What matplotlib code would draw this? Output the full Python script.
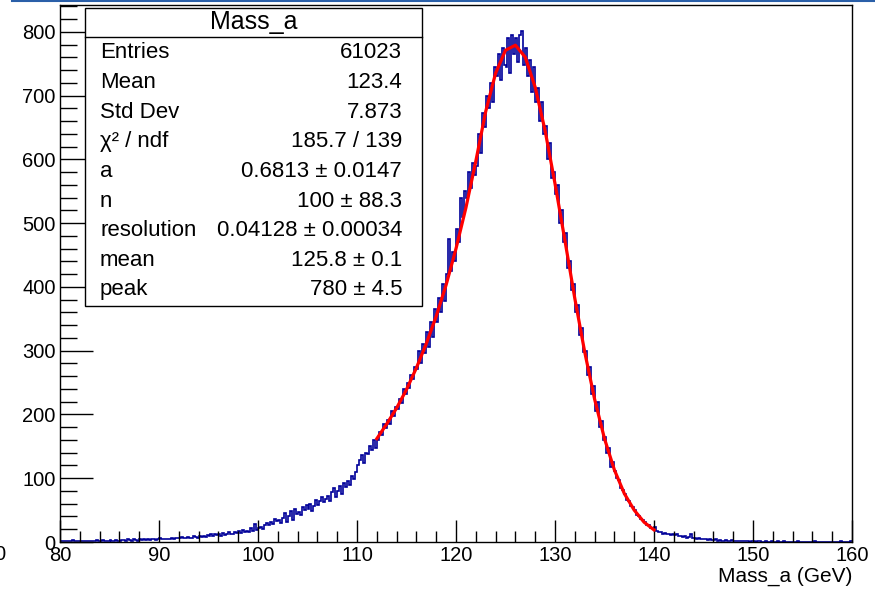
import numpy as np
import matplotlib
matplotlib.use("Agg")
import matplotlib.pyplot as plt
from matplotlib.lines import Line2D
from matplotlib.patches import Rectangle
from matplotlib.ticker import MultipleLocator

plt.rcParams['font.family'] = ['Liberation Sans', 'DejaVu Sans']

# histogram Mass_a: 400 bins from 80 to 160 GeV
x_min, x_max, n_bins = 80, 160, 400
counts = [
    1, 2, 1, 1, 2, 1, 3, 2, 1, 1,
    2, 1, 2, 1, 2, 1, 2, 2, 3, 1,
    2, 3, 2, 2, 2, 3, 2, 2, 3, 2,
    2, 3, 3, 2, 4, 3, 2, 4, 3, 2,
    4, 3, 5, 3, 4, 3, 5, 4, 3, 4,
    6, 4, 5, 4, 5, 5, 6, 5, 7, 6,
    6, 8, 7, 6, 8, 7, 6, 9, 8, 7,
    9, 8, 10, 8, 11, 10, 12, 9, 13, 11,
    12, 10, 14, 11, 13, 15, 13, 12, 16, 14,
    17, 14, 19, 15, 18, 16, 22, 18, 28, 19,
    22, 24, 20, 26, 30, 27, 31, 29, 36, 33,
    34, 30, 38, 45, 32, 40, 48, 35, 52, 44,
    47, 42, 55, 50, 58, 52, 60, 48, 56, 66,
    58, 64, 70, 62, 68, 72, 65, 78, 84, 70,
    80, 88, 76, 92, 86, 96, 90, 104, 98, 110,
    120, 128, 136, 124, 140, 138, 150, 145, 160, 148,
    160, 172, 168, 185, 178, 192, 185, 205, 198, 212,
    208, 225, 218, 240, 232, 250, 242, 262, 255, 275,
    272, 300, 280, 310, 296, 330, 305, 345, 322, 365,
    345, 382, 360, 405, 378, 420, 475, 425, 455, 440,
    490, 470, 540, 510, 550, 540, 580, 555, 595, 575,
    590, 640, 610, 672, 650, 700, 680, 720, 690, 745,
    730, 765, 725, 775, 748, 745, 790, 735, 795, 765,
    790, 752, 795, 802, 748, 775, 730, 755, 705, 745,
    690, 712, 660, 690, 640, 652, 600, 625, 570, 580,
    545, 560, 500, 520, 470, 485, 430, 440, 395, 405,
    360, 372, 325, 335, 298, 300, 262, 275, 232, 245,
    205, 220, 180, 190, 160, 165, 140, 148, 118, 125,
    112, 100, 97, 85, 82, 75, 66, 64, 56, 55,
    50, 43, 41, 36, 34, 31, 27, 27, 22, 22,
    24, 17, 15, 16, 13, 14, 12, 13, 11, 12,
    11, 12, 9, 10, 8, 9, 7, 8, 12, 6,
    6, 5, 7, 4, 5, 4, 5, 3, 4, 3,
    3, 4, 2, 3, 2, 2, 3, 2, 1, 3,
    2, 1, 2, 1, 2, 1, 2, 1, 0, 1,
    1, 0, 1, 1, 0, 0, 1, 0, 0, 1,
    0, 0, 1, 0, 0, 1, 0, 0, 0, 0,
    0, 0, 1, 0, 0, 0, 0, 0, 0, 0,
    0, 1, 0, 0, 0, 0, 0, 0, 0, 0,
    0, 0, 0, 0, 1, 0, 0, 0, 0, 1,
]

# fit curve (red), read at 1 GeV steps
fit_x = [112, 113, 114, 115, 116, 117, 118, 119, 120, 121, 122, 123, 124, 125, 126,
         127, 128, 129, 130, 131, 132, 133, 134, 135, 136, 137, 138, 139, 140]
fit_y = [162, 185, 210, 239, 273, 311, 354, 403, 460, 524, 597, 675, 735, 771, 779,
         760, 713, 645, 562, 473, 382, 298, 224, 162, 113, 76, 50, 31, 19]

stat_labels = ["Entries", "Mean", "Std Dev", "\u03c7\u00b2 / ndf", "a", "n",
               "resolution", "mean", "peak"]
stat_values = ["61023", "123.4", "7.873", "185.7 / 139", "0.6813 \u00b1 0.0147",
               "100 \u00b1 88.3", "0.04128 \u00b1 0.00034", "125.8 \u00b1 0.1",
               "780 \u00b1 4.5"]

W, H = 875, 593
fig = plt.figure(figsize=(W / 100, H / 100), dpi=100)
ax = fig.add_axes([60 / W, 1 - 542 / H, 792 / W, 537 / H])

edges = np.linspace(x_min, x_max, n_bins + 1)
ax.stairs(counts, edges, color='#000099', lw=1.2, baseline=None)
ax.plot(fit_x, fit_y, color='#ff0000', lw=2.3)

ax.set_xlim(x_min, x_max)
ax.set_ylim(0, 842)
ax.xaxis.set_major_locator(MultipleLocator(10))
ax.xaxis.set_minor_locator(MultipleLocator(2))
ax.yaxis.set_major_locator(MultipleLocator(100))
ax.yaxis.set_minor_locator(MultipleLocator(20))
ax.tick_params(axis='both', which='both', direction='in', top=False, right=False,
               labelsize=14.5, width=1, color='black')
ax.tick_params(axis='x', which='major', length=16, pad=3)
ax.tick_params(axis='x', which='minor', length=8)
ax.tick_params(axis='y', which='major', length=24, pad=3)
ax.tick_params(axis='y', which='minor', length=12)
for s in ax.spines.values():
    s.set_linewidth(1)
ax.set_xlabel("Mass_a (GeV)", fontsize=15, loc='right', labelpad=1)

# stats box
bx0, bx1, by0, by1 = 85 / W, 422 / W, 1 - 306 / H, 1 - 8 / H
fig.add_artist(Rectangle((bx0, by0), bx1 - bx0, by1 - by0, transform=fig.transFigure,
                         facecolor='white', edgecolor='black', lw=1, zorder=5))
fig.add_artist(Line2D([bx0, bx1], [1 - 37 / H, 1 - 37 / H], transform=fig.transFigure,
                      color='black', lw=1, zorder=6))
fig.text((bx0 + bx1) / 2, 1 - 22 / H, "Mass_a", ha='center', va='center',
         fontsize=18, zorder=7)
for i, (lab, val) in enumerate(zip(stat_labels, stat_values)):
    yy = 1 - (53 + i * 29.6) / H
    fig.text(100 / W, yy, lab, ha='left', va='center', fontsize=16, zorder=7)
    fig.text(402 / W, yy, val, ha='right', va='center', fontsize=16, zorder=7)

# bits of the screenshot border
fig.add_artist(Line2D([12 / W, 1], [1 - 0.8 / H, 1 - 0.8 / H], transform=fig.transFigure,
                      color='#2a5fa8', lw=1.5))
fig.text(0, 1 - 555 / H, "0", ha='center', va='center', fontsize=14.5)

fig.savefig("out.png", dpi=100)
